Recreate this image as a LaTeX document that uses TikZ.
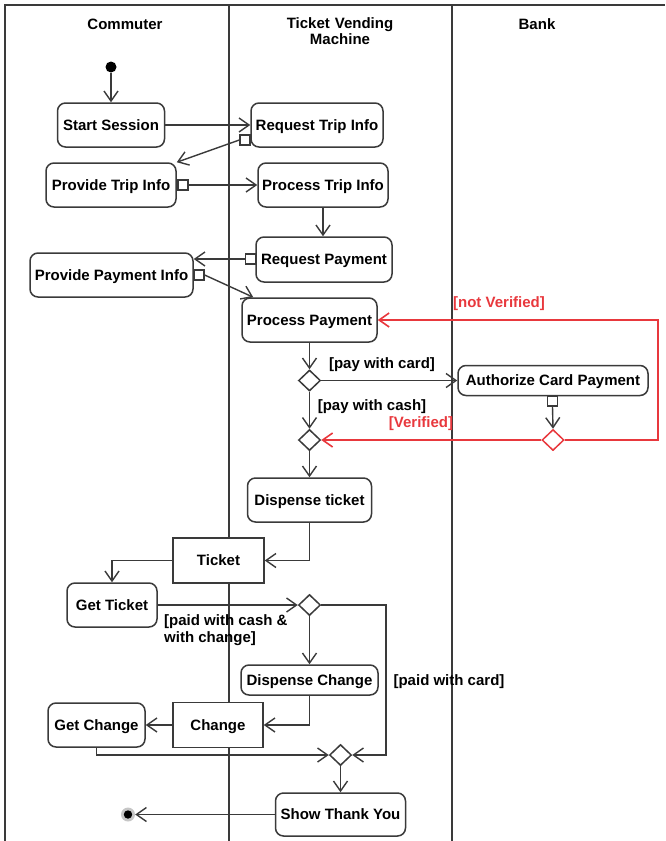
\documentclass[tikz,border=0pt]{standalone}
\usepackage{fontspec}
\setmainfont{Liberation Sans}
\usetikzlibrary{arrows.meta,shapes.geometric}
\definecolor{ink}{HTML}{3A3A3A}
\definecolor{guardred}{HTML}{E8383D}

\begin{document}
\begin{tikzpicture}[x=1pt,y=-1pt,
  font=\fontsize{15}{17.5}\selectfont\bfseries,
  action/.style={draw=ink, line width=1.5pt, rounded corners=8pt, fill=white, inner sep=0pt,
                 text height=10.6pt, text depth=0.4pt},
  object/.style={draw=ink, line width=1.5pt, fill=white, inner sep=0pt,
                 text height=10.6pt, text depth=0.4pt},
  pinbox/.style={draw=ink, line width=1.3pt, fill=white, minimum size=10pt, inner sep=0pt},
  choice/.style={diamond, draw=ink, line width=1.5pt, fill=white, minimum width=22pt, minimum height=21pt, inner sep=0pt},
  flow/.style={draw=ink, line width=1.4pt, -{Straight Barb[length=10pt,width=14pt]}},
  redflow/.style={draw=guardred, line width=1.6pt, -{Straight Barb[length=10pt,width=14pt]}},
  guard/.style={inner sep=0pt, text=black},
  redguard/.style={inner sep=0pt, text=guardred},
  lane/.style={draw=ink, line width=1.8pt},
  header/.style={inner sep=0pt, align=center}
]
\useasboundingbox (0,0) rectangle (665,841);

% swimlane frame
\draw[lane] (5,841) -- (5,5) -- (665,5);
\draw[lane] (229,5) -- (229,841);
\draw[lane] (452,5) -- (452,841);
\node[header] (hCommuter) at (125,24) {Commuter};
\node[header, text width=150pt] (hTVM) at (340,31) {Ticket Vending\\[-1pt]Machine};
\node[header] (hBank) at (537,24) {Bank};

% start
\node[circle, fill=black, minimum size=11pt, inner sep=0pt] (init) at (111,67) {};

% actions
\node[action, minimum width=107pt, minimum height=44pt] (ss)   at (111,125)   {Start Session};
\node[action, minimum width=132pt, minimum height=44pt] (rti)  at (317,125)   {Request Trip Info};
\node[action, minimum width=130pt, minimum height=44pt] (pti)  at (111,185)   {Provide Trip Info};
\node[action, minimum width=130pt, minimum height=44pt] (prti) at (323,185)   {Process Trip Info};
\node[action, minimum width=136pt, minimum height=45pt] (rp)   at (324,259.5) {Request Payment};
\node[action, minimum width=163pt, minimum height=44pt] (ppi)  at (111.5,275) {Provide Payment Info};
\node[action, minimum width=135pt, minimum height=44pt] (pp)   at (309.5,320) {Process Payment};
\node[action, minimum width=190pt, minimum height=30pt] (acp)  at (553,380.5) {Authorize Card Payment};
\node[action, minimum width=124pt, minimum height=44pt] (dt)   at (309.5,500) {Dispense ticket};
\node[action, minimum width=90pt,  minimum height=44pt] (gt)   at (112,605)   {Get Ticket};
\node[action, minimum width=137pt, minimum height=30pt] (dc)   at (309.5,680) {Dispense Change};
\node[action, minimum width=97pt,  minimum height=44pt] (gc)   at (96.5,725)  {Get Change};
\node[action, minimum width=130pt, minimum height=43pt] (sty)  at (340.5,814.5) {Show Thank You};

% object nodes
\node[object, minimum width=91pt, minimum height=45pt] (ticket) at (218.5,560.5) {Ticket};
\node[object, minimum width=90pt, minimum height=45pt] (change) at (218,725)     {Change};

% pins
\node[pinbox] (pin1) at (245,140) {};
\node[pinbox] (pin2) at (183,185) {};
\node[pinbox] (pin3) at (250.5,259) {};
\node[pinbox] (pin4) at (199,275) {};
\node[pinbox] (pin5) at (552.5,401) {};

% decisions and merges
\node[choice] (d1) at (309.5,380.5) {};
\node[choice] (d2) at (309.5,440) {};
\node[choice, draw=guardred] (dv) at (553,440) {};
\node[choice] (d3) at (309.5,605) {};
\node[choice] (dm) at (340.5,755) {};

% final
\node[circle, fill=gray!45, minimum size=14pt, inner sep=0pt] (final) at (128,814.5) {};
\fill[black] (final.center) circle (4.2pt);

% turning points of routed flows
\coordinate (nvR) at (658,320);
\coordinate (pcR) at (386,755);

% control and object flows
\draw[flow] (init) -- (ss.north);
\draw[flow] (ss.east) -- (rti.west);
\draw[flow] (pin1.west) -- (pti.north east);
\draw[flow] (pin2.east) -- (prti.west);
\draw[flow] (prti.south) -- (prti.south |- rp.north);
\draw[flow] (pin3.west) -- (ppi.east |- pin3);
\draw[flow] (pin4.east) -- ([xshift=12pt]pp.north west);
\draw[flow] (pp.south) -- (d1.north);
\draw[flow] (d1.east) -- (acp.west);
\draw[flow] (d1.south) -- (d2.north);
\draw[flow] (pin5.south) -- (dv.north);
\draw[redflow] (dv.west) -- (d2.east);
\draw[redflow] (dv.east) -| (nvR) -- (pp.east);
\draw[flow] (d2.south) -- (dt.north);
\draw[flow] (dt.south) |- (ticket.east);
\draw[flow] (ticket.west) -| (gt.north);
\draw[flow] (gt.east) -- (d3.west);
\draw[flow] (d3.south) -- (dc.north);
\draw[flow] (d3.east) -| (pcR) -- (dm.east);
\draw[flow] (dc.south) |- (change.east);
\draw[flow] (change.west) -- (gc.east);
\draw[flow] (gc.south) |- (dm.west);
\draw[flow] (dm.south) -- (sty.north);
\draw[flow] (sty.west) -- (final.east);

% guards
\node[guard] (gCard) at (382,365) {[pay with card]};
\node[guard] (gCash) at (372,407) {[pay with cash]};
\node[redguard] (gVer) at (421,424) {[Verified]};
\node[redguard] (gNotVer) at (499,304) {[not Verified]};
\node[guard, anchor=west, align=left] (gChange) at (164,630) {[paid with cash \&\\with change]};
\node[guard] (gPaidCard) at (449,682) {[paid with card]};
\end{tikzpicture}
\end{document}
